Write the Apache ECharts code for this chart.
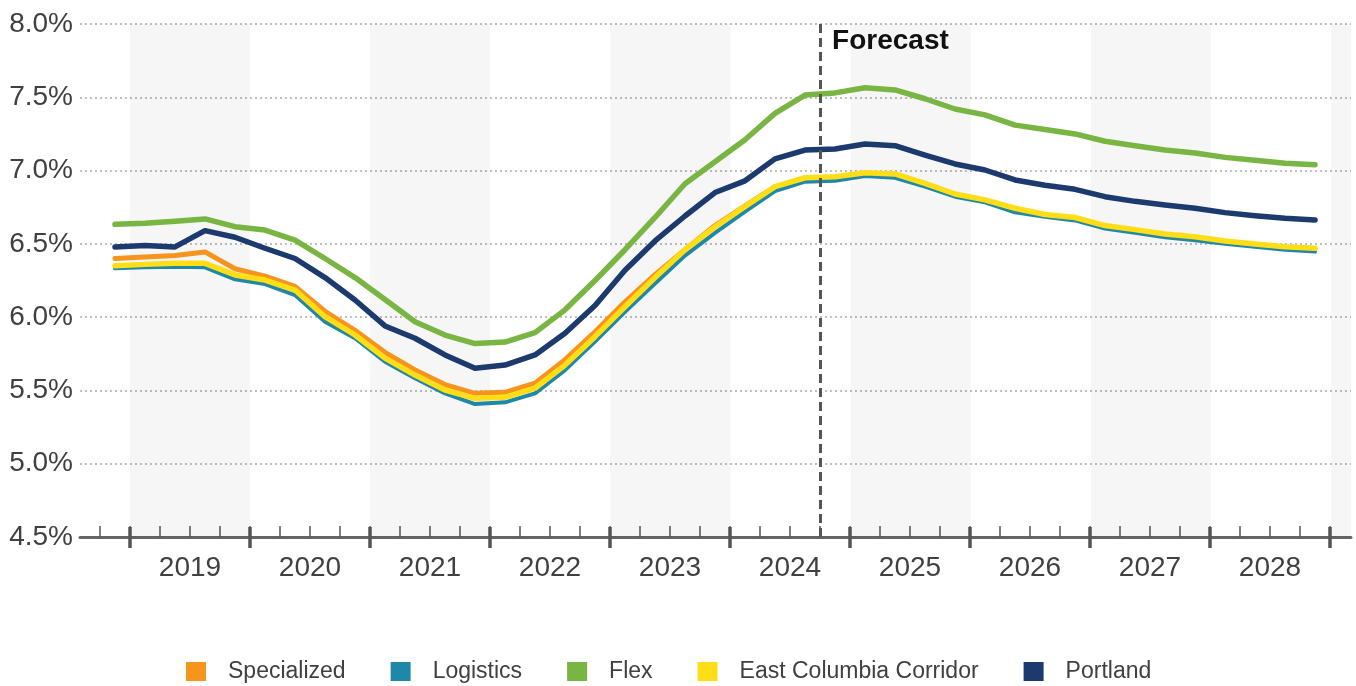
<!DOCTYPE html>
<html><head><meta charset="utf-8">
<script src="https://cdn.jsdelivr.net/npm/echarts/dist/echarts.min.js"></script>
<style>html,body{margin:0;padding:0;background:#fff}#c{width:1356px;height:686px}</style>
</head><body><div id="c"></div>
<script>
const quarters = ['2018 Q4',
 '2019 Q1','2019 Q2','2019 Q3','2019 Q4','2020 Q1','2020 Q2','2020 Q3','2020 Q4',
 '2021 Q1','2021 Q2','2021 Q3','2021 Q4','2022 Q1','2022 Q2','2022 Q3','2022 Q4',
 '2023 Q1','2023 Q2','2023 Q3','2023 Q4','2024 Q1','2024 Q2','2024 Q3','2024 Q4',
 '2025 Q1','2025 Q2','2025 Q3','2025 Q4','2026 Q1','2026 Q2','2026 Q3','2026 Q4',
 '2027 Q1','2027 Q2','2027 Q3','2027 Q4','2028 Q1','2028 Q2','2028 Q3','2028 Q4'];
const years = ['2019','2020','2021','2022','2023','2024','2025','2026','2027','2028'];
const shadedYears = [2019, 2021, 2023, 2025, 2027, 2029];
const forecastStart = '2024 Q4';
const yTicks = [4.5, 5.0, 5.5, 6.0, 6.5, 7.0, 7.5, 8.0];

const specialized = [6.40, 6.41, 6.42, 6.445, 6.33, 6.28, 6.21, 6.04, 5.91, 5.76,
 5.64, 5.54, 5.48, 5.487, 5.55, 5.71, 5.90, 6.105, 6.29, 6.46,
 6.625, 6.76, 6.89, 6.945, 6.952, 6.978, 6.97, 6.905, 6.833, 6.792,
 6.735, 6.692, 6.672, 6.617, 6.59, 6.56, 6.542, 6.513, 6.492, 6.474, 6.463];
const logistics = [6.333, 6.34, 6.344, 6.34, 6.258, 6.226, 6.151, 5.969, 5.856, 5.696,
 5.583, 5.48, 5.407, 5.419, 5.48, 5.639, 5.833, 6.037, 6.23, 6.42,
 6.575, 6.72, 6.86, 6.924, 6.93, 6.963, 6.951, 6.89, 6.822, 6.784,
 6.715, 6.685, 6.66, 6.605, 6.575, 6.545, 6.525, 6.50, 6.48, 6.46, 6.447];
const flex = [6.633, 6.64, 6.654, 6.67, 6.617, 6.594, 6.526, 6.40, 6.27, 6.12,
 5.969, 5.878, 5.82, 5.83, 5.894, 6.05, 6.25, 6.46, 6.68, 6.91,
 7.06, 7.21, 7.39, 7.515, 7.53, 7.565, 7.55, 7.49, 7.42, 7.38,
 7.31, 7.28, 7.25, 7.20, 7.17, 7.14, 7.12, 7.09, 7.07, 7.05, 7.04];
const eastColumbia = [6.351, 6.36, 6.367, 6.367, 6.288, 6.253, 6.185, 6.003, 5.878, 5.72,
 5.605, 5.503, 5.446, 5.453, 5.515, 5.673, 5.867, 6.071, 6.27, 6.46,
 6.615, 6.755, 6.89, 6.951, 6.958, 6.985, 6.977, 6.913, 6.84, 6.80,
 6.743, 6.70, 6.68, 6.625, 6.597, 6.567, 6.549, 6.52, 6.499, 6.481, 6.47];
const portland = [6.479, 6.488, 6.479, 6.59, 6.545, 6.47, 6.40, 6.27, 6.117, 5.94,
 5.856, 5.742, 5.651, 5.673, 5.742, 5.89, 6.08, 6.32, 6.52, 6.69,
 6.85, 6.93, 7.08, 7.14, 7.147, 7.181, 7.17, 7.106, 7.045, 7.004,
 6.936, 6.90, 6.872, 6.822, 6.79, 6.765, 6.743, 6.713, 6.692, 6.674, 6.663];

const seriesDefs = [
  {name:'Specialized', data:specialized, color:'#F7941E', width:5},
  {name:'Logistics', data:logistics, color:'#1F88A8', width:4},
  {name:'Flex', data:flex, color:'#78B543', width:5.5},
  {name:'East Columbia Corridor', data:eastColumbia, color:'#FFDE17', width:5.5},
  {name:'Portland', data:portland, color:'#1C3A6E', width:5.5}
];

const FONT = '"Liberation Sans", Arial, sans-serif';
const pad = 2/3; // quarter-widths of padding on each side of the plotted quarters
const xMax = quarters.length + pad;
const firstYear = 2019;
// boundary coordinate (in quarter units, 0 = left edge of first quarter)
const yearStart = y => quarters.indexOf(String(firstYear) + ' Q1') + 4 * (y - firstYear);
const bands = shadedYears.map(y => [{xAxis: yearStart(y)}, {xAxis: Math.min(yearStart(y) + 4, xMax)}]);
const forecastBoundary = quarters.indexOf(forecastStart);

const chart = echarts.init(document.getElementById('c'), null, {renderer:'canvas'});
const option = {
  backgroundColor:'#ffffff',
  animation:false,
  textStyle:{fontFamily:FONT},
  grid:[
    {left:80, right:5, top:24, bottom:149},
    {left:100, right:26, top:24, bottom:149},
    {left:130, right:26, top:24, bottom:149}
  ],
  xAxis:[
    {gridIndex:0, type:'value', min:-pad, max:xMax,
     axisLine:{show:true, onZero:false, lineStyle:{color:'#666', width:3}},
     axisTick:{show:false}, axisLabel:{show:false}, splitLine:{show:false}},
    {gridIndex:1, type:'category', data:quarters, boundaryGap:true,
     axisLine:{show:false},
     axisTick:{show:true, inside:true, length:11, interval:0, lineStyle:{color:'#555', width:1.5}},
     axisLabel:{show:false}, splitLine:{show:false}},
    {gridIndex:2, type:'category', data:years, boundaryGap:true, offset:-10,
     axisLine:{show:false},
     axisTick:{show:true, length:21, interval:0, lineStyle:{color:'#555', width:3.5}},
     axisLabel:{show:true, interval:0, fontSize:28, color:'#404040', margin:27, fontFamily:FONT},
     splitLine:{show:false}}
  ],
  yAxis:[
    {gridIndex:0, type:'value', min:yTicks[0], max:yTicks[yTicks.length-1], interval:0.5,
     axisLine:{show:false}, axisTick:{show:false},
     axisLabel:{fontSize:28, color:'#404040', margin:7, fontFamily:FONT, formatter:v => v.toFixed(1) + '%'},
     splitLine:{show:true, lineStyle:{color:'#aaaaaa', type:[2,3], width:1.5}}},
    {gridIndex:1, type:'value', min:yTicks[0], max:yTicks[yTicks.length-1], show:false},
    {gridIndex:2, type:'value', min:0, max:1, show:false}
  ],
  legend:{
    data:seriesDefs.map(s => s.name), left:181, top:655, icon:'rect',
    itemWidth:20, itemHeight:19, itemGap:45,
    textStyle:{fontSize:23, color:'#404040', fontFamily:FONT, padding:[0,0,0,17]}
  },
  series:[
    {type:'line', name:'_bands', xAxisIndex:0, yAxisIndex:0, data:[], silent:true,
     markArea:{silent:true, itemStyle:{color:'rgba(0,0,0,0.035)'}, data:bands}},
    ...seriesDefs.map(s => ({
      type:'line', name:s.name, xAxisIndex:1, yAxisIndex:1, data:s.data,
      showSymbol:false, symbol:'none', smooth:false,
      itemStyle:{color:s.color},
      lineStyle:{color:s.color, width:s.width, join:'round', cap:'round'}
    })),
    {type:'line', name:'_forecast', xAxisIndex:0, yAxisIndex:0, data:[], z:10, silent:true,
     markLine:{silent:true, symbol:['none','none'],
       lineStyle:{color:'#555', width:3, type:[9,5]}, label:{show:false},
       data:[{xAxis:forecastBoundary}]},
     markPoint:{silent:true, symbol:'rect', symbolSize:1, itemStyle:{color:'rgba(0,0,0,0)'},
       label:{show:true, formatter:'Forecast', position:'right', distance:11, offset:[0,17],
         fontSize:28, fontWeight:'bold', color:'#111', fontFamily:FONT},
       data:[{coord:[forecastBoundary, yTicks[yTicks.length-1]]}]}}
  ]
};
chart.setOption(option);
</script>
</body></html>
